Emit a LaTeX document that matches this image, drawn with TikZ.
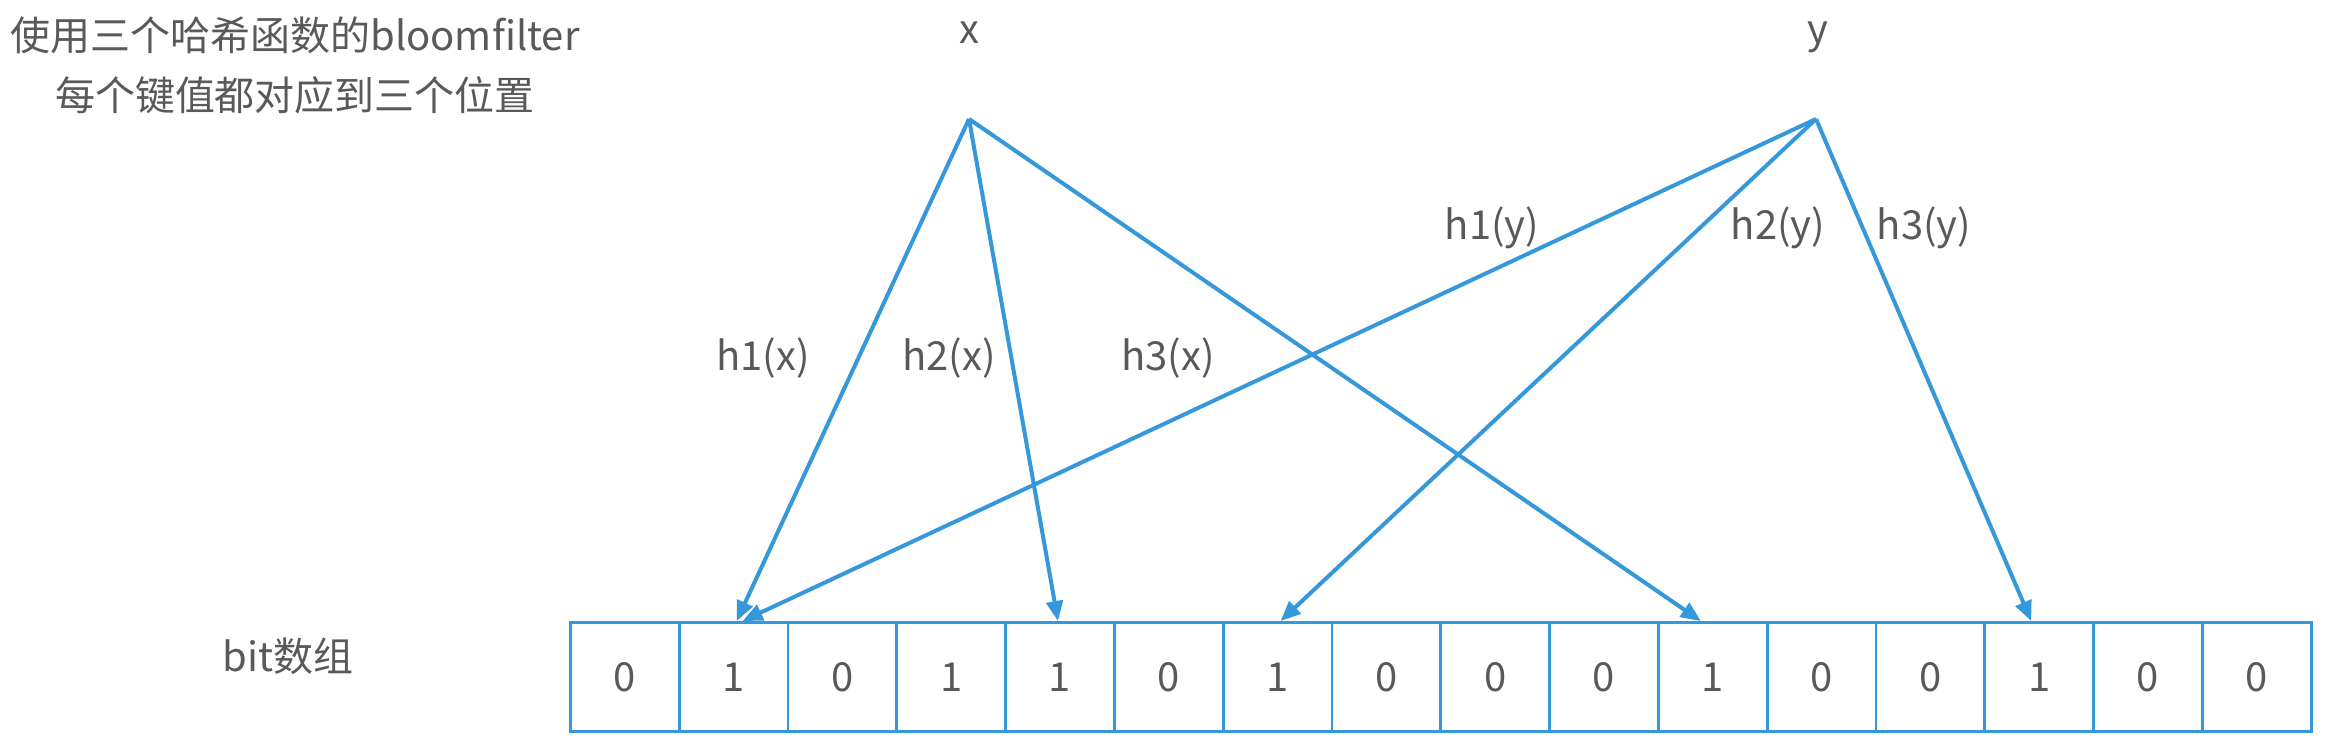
\documentclass[tikz,border=0pt]{standalone}
\usepackage{fontspec}
\setmainfont{Noto Sans CJK SC}
\usetikzlibrary{arrows.meta}
\definecolor{lblue}{HTML}{3498DB}
\definecolor{tgray}{HTML}{595959}
\begin{document}
\begin{tikzpicture}[x=0.3pt,y=-0.3pt,
  txt/.style={text=tgray,font=\fontsize{12}{18}\selectfont,inner sep=0pt},
  cell/.style={draw=lblue,line width=0.85pt,minimum width=32.64pt,minimum height=32.7pt,
    inner sep=0pt,text=tgray,font=\fontsize{12}{14}\selectfont,anchor=north west},
  arr/.style={draw=lblue,line width=1.2pt,-{Triangle[length=6pt,width=5pt]}}]
\useasboundingbox (0,0) rectangle (2337,743);
% title
\node[txt,align=center] (title) at (295,65) {使用三个哈希函数的bloomfilter\\每个键值都对应到三个位置};
% sources
\node[txt,anchor=base] (xl) at (969,43) {x};
\node[txt,anchor=base] (yl) at (1818,43) {y};
\coordinate (xs) at (969,119);
\coordinate (ys) at (1816,119);
% array label
\node[txt] (bitlbl) at (288,656) {bit数组};
% cells
\foreach \v [count=\i from 0] in {0,1,0,1,1,0,1,0,0,0,1,0,0,1,0,0}
  \node[cell] (c\i) at ({569+108.8*\i},621) {\v};
% arrows
\draw[arr] (xs) -- ([xshift=0.9pt]c1.north);
\draw[arr] (xs) -- ([xshift=-0.6pt]c4.north);
\draw[arr] (xs) -- ([xshift=-3.6pt]c10.north);
\draw[arr] (ys) -- ([xshift=2.7pt]c1.north);
\draw[arr] (ys) -- ([xshift=0.9pt]c6.north);
\draw[arr] (ys) -- ([xshift=-2.4pt]c13.north);
% labels
\node[txt] (l1x) at (763,358) {h1(x)};
\node[txt] (l2x) at (949,358) {h2(x)};
\node[txt] (l3x) at (1168,358) {h3(x)};
\node[txt] (l1y) at (1492,228) {h1(y)};
\node[txt] (l2y) at (1778,228) {h2(y)};
\node[txt] (l3y) at (1924,228) {h3(y)};
\end{tikzpicture}
\end{document}
